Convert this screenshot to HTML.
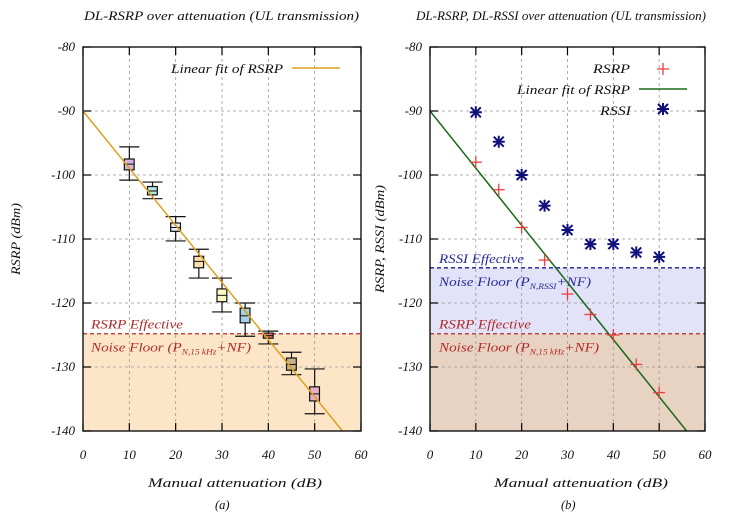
<!DOCTYPE html>
<html><head><meta charset="utf-8"><style>
body{margin:0;background:#fff;}
svg text{font-family:"Liberation Serif",serif;font-style:italic;fill:#111;}
</style></head><body>
<svg id="chart" width="738" height="518" xmlns="http://www.w3.org/2000/svg"></svg>
<script>
const xTicks=[0,10,20,30,40,50,60];
const yTicks=[-80,-90,-100,-110,-120,-130,-140];
const boxX=[10,15,20,25,30,35,40,45,50];
const boxLow=[-100.8,-103.7,-110.3,-116.1,-121.4,-125.2,-126.4,-131.2,-137.3];
const boxQ1=[-99.2,-103.1,-108.8,-114.5,-119.8,-123.1,-125.5,-130.5,-135.3];
const boxMed=[-98.3,-102.5,-108.2,-113.5,-118.8,-122.0,-125.1,-129.6,-134.2];
const boxQ3=[-97.5,-101.8,-107.5,-112.7,-117.8,-120.8,-124.7,-128.6,-133.1];
const boxHigh=[-95.6,-101.1,-106.5,-111.6,-116.1,-120.0,-124.4,-127.7,-130.3];
const boxColors=['#d8b4e2','#b4e4da','#e4eef8','#f6deb0','#fafac4','#a8d0e6','#e07a6a','#c8b488','#e8b0c4'];
const rsrpX=[10,15,20,25,30,35,40,45,50];
const rsrpVals=[-98,-102.3,-108.2,-113.3,-118.6,-121.8,-125,-129.6,-134];
const rssiVals=[-90.2,-94.8,-100,-104.8,-108.6,-110.8,-110.8,-112.1,-112.8];
const fitIntercept=-90, fitSlope=-0.893;
const rsrpFloor=-124.8, rssiFloor=-114.5;

const svg=document.getElementById('chart');
const NS='http://www.w3.org/2000/svg';
function el(tag,attrs,parent,text){const e=document.createElementNS(NS,tag);for(const k in attrs)e.setAttribute(k,attrs[k]);if(text!==undefined)e.textContent=text;(parent||svg).appendChild(e);return e;}

function panel(L,R,T,B,name){
  const sx=v=>L+(v-0)/60*(R-L);
  const sy=v=>T+(-80-v)/60*(B-T);
  const g=el('g',{});
  
  
  return {sx,sy,g,L,R,T,B};
}
function axes(p){
  const {sx,sy,g,L,R,T,B}=p;
  xTicks.forEach(v=>{
    if(v>0&&v<60){const l=el('line',{x1:sx(v),x2:sx(v),y1:T,y2:B,stroke:'#999','stroke-dasharray':'3,3','stroke-width':0.8},g);
    }
    el('line',{x1:sx(v),x2:sx(v),y1:T,y2:T+8,stroke:'#000','stroke-width':1.2},g);
    el('line',{x1:sx(v),x2:sx(v),y1:B,y2:B-8,stroke:'#000','stroke-width':1.2},g);
    const t=el('text',{x:sx(v),y:B+28,'text-anchor':'middle','font-size':13},g,String(v));
    
  });
  yTicks.forEach(v=>{
    if(v>-140&&v<-80){const l=el('line',{x1:L,x2:R,y1:sy(v),y2:sy(v),stroke:'#999','stroke-dasharray':'3,3','stroke-width':0.8},g);
    }
    el('line',{x1:L,x2:L+8,y1:sy(v),y2:sy(v),stroke:'#000','stroke-width':1.2},g);
    el('line',{x1:R,x2:R-8,y1:sy(v),y2:sy(v),stroke:'#000','stroke-width':1.2},g);
    const t=el('text',{x:L-8,y:sy(v)+4,'text-anchor':'end','font-size':13},g,String(v));
    
  });
}
function frame(p){const f=el('rect',{x:p.L,y:p.T,width:p.R-p.L,height:p.B-p.T,fill:'none',stroke:'#000','stroke-width':1.3},p.g);
 }
function fitLine(p,color,name){
  const x2=(-140-fitIntercept)/fitSlope;
  const l=el('line',{x1:p.sx(0),y1:p.sy(fitIntercept),x2:p.sx(x2),y2:p.sy(-140),stroke:color,'stroke-width':1.5},p.g);
  
}
function label(p,txt,x,y,color,name,size,len){const a={x,y,'font-size':size||13,fill:color};if(len){a.textLength=len;a.lengthAdjust='spacingAndGlyphs';}
 const t=el('text',a,p?p.g:svg,txt);
 t.style.fill=color;return t;}
function nf(parent,x,y,color,name,sub,len){const t=el('text',{x,y,'font-size':13,textLength:len,lengthAdjust:'spacingAndGlyphs'},parent.g);
 t.style.fill=color;
 t.innerHTML='Noise Floor (P<tspan font-size="8" dy="3">'+sub+'</tspan><tspan dy="-3">+NF)</tspan>';}

// ---- Left panel
const A=panel(83,361,47,431,'panel-a');
el('rect',{x:A.L,y:A.sy(rsrpFloor),width:A.R-A.L,height:A.B-A.sy(rsrpFloor),fill:'#fde6c8'},A.g);
axes(A);
el('line',{x1:A.L,x2:A.R,y1:A.sy(rsrpFloor),y2:A.sy(rsrpFloor),stroke:'#b22a2a','stroke-dasharray':'4,3','stroke-width':1.3},A.g);
label(A,'RSRP Effective',91,A.sy(rsrpFloor)-5,'#b22a2a','rsrp-effective-label',13,92);
nf(A,91,A.sy(rsrpFloor)+18,'#b22a2a','noise-floor-label','N,15 kHz',160);
boxX.forEach((x,i)=>{
  const cx=A.sx(x),w=7,cw=10;
  const g=el('g',{},A.g);
  
  
  el('line',{x1:cx,x2:cx,y1:A.sy(boxLow[i]),y2:A.sy(boxHigh[i]),stroke:'#111','stroke-width':1.2},g);
  el('line',{x1:cx-cw,x2:cx+cw,y1:A.sy(boxLow[i]),y2:A.sy(boxLow[i]),stroke:'#111','stroke-width':1.2},g);
  el('line',{x1:cx-cw,x2:cx+cw,y1:A.sy(boxHigh[i]),y2:A.sy(boxHigh[i]),stroke:'#111','stroke-width':1.2},g);
  el('rect',{x:cx-w/1.4,y:A.sy(boxQ3[i]),width:w*1.4,height:A.sy(boxQ1[i])-A.sy(boxQ3[i]),fill:boxColors[i],stroke:'#111','stroke-width':1.2},g);
  el('line',{x1:cx-w/1.4,x2:cx+w/1.4,y1:A.sy(boxMed[i]),y2:A.sy(boxMed[i]),stroke:'#111','stroke-width':1},g);
});
fitLine(A,'#e0a020','fit-line-a');
frame(A);
label(A,'Linear fit of RSRP',171,73,'#111','legend-fit-label',13,112);
el('line',{x1:292,x2:340,y1:68,y2:68,stroke:'#e0a020','stroke-width':1.5},A.g);
label(null,'DL-RSRP over attenuation (UL transmission)',84,20,'#111','title-a',12.5,275);
let t=el('text',{x:0,y:0,'font-size':12.5,transform:'translate(20,239) rotate(-90)','text-anchor':'middle',textLength:72,lengthAdjust:'spacingAndGlyphs'},svg,'RSRP (dBm)');

t=el('text',{x:148,y:487,'font-size':12.5,textLength:174,lengthAdjust:'spacingAndGlyphs'},svg,'Manual attenuation (dB)');

t=el('text',{x:215,y:509,'font-size':12.5},svg,'(a)');


// ---- Right panel
const Bp=panel(430,705,47,431,'panel-b');
el('rect',{x:Bp.L,y:Bp.sy(rssiFloor),width:Bp.R-Bp.L,height:Bp.sy(rsrpFloor)-Bp.sy(rssiFloor),fill:'#e2e2f8'},Bp.g);
el('rect',{x:Bp.L,y:Bp.sy(rsrpFloor),width:Bp.R-Bp.L,height:Bp.B-Bp.sy(rsrpFloor),fill:'#e8d2c2'},Bp.g);
axes(Bp);
el('line',{x1:Bp.L,x2:Bp.R,y1:Bp.sy(rssiFloor),y2:Bp.sy(rssiFloor),stroke:'#1a1a90','stroke-dasharray':'4,3','stroke-width':1.3},Bp.g);
el('line',{x1:Bp.L,x2:Bp.R,y1:Bp.sy(rsrpFloor),y2:Bp.sy(rsrpFloor),stroke:'#b22a2a','stroke-dasharray':'4,3','stroke-width':1.3},Bp.g);
label(Bp,'RSSI Effective',439,Bp.sy(rssiFloor)-5,'#2a2a9a','rssi-effective-label',13,85);
nf(Bp,439,Bp.sy(rssiFloor)+18,'#2a2a9a','rssi-noise-floor-label','N,RSSI',152);
label(Bp,'RSRP Effective',439,Bp.sy(rsrpFloor)-5,'#b22a2a','rsrp-effective-label-b',13,92);
nf(Bp,439,Bp.sy(rsrpFloor)+18,'#b22a2a','rsrp-noise-floor-label-b','N,15 kHz',160);
fitLine(Bp,'#1a6a1a','fit-line-b');
function plus(cx,cy,name){const g=el('g',{stroke:'#e84040','stroke-width':1.3},Bp.g);
 el('line',{x1:cx-6,x2:cx+6,y1:cy,y2:cy},g);el('line',{x1:cx,x2:cx,y1:cy-6,y2:cy+6},g);}
function star(cx,cy,name){const g=el('g',{stroke:'#10107a','stroke-width':2},Bp.g);
 el('line',{x1:cx-6,x2:cx+6,y1:cy,y2:cy},g);el('line',{x1:cx,x2:cx,y1:cy-6,y2:cy+6},g);
 el('line',{x1:cx-5,x2:cx+5,y1:cy-5,y2:cy+5},g);el('line',{x1:cx-5,x2:cx+5,y1:cy+5,y2:cy-5},g);}
rsrpX.forEach((x,i)=>{plus(Bp.sx(x),Bp.sy(rsrpVals[i]),'rsrp-point-'+x);star(Bp.sx(x),Bp.sy(rssiVals[i]),'rssi-point-'+x);});
frame(Bp);
label(Bp,'RSRP',593,73,'#111','legend-rsrp-label',13,37);
plus(663,69,'legend-rsrp-marker');
label(Bp,'Linear fit of RSRP',517,94,'#111','legend-fit-label-b',13,113);
el('line',{x1:639,x2:687,y1:89,y2:89,stroke:'#1a6a1a','stroke-width':1.5},Bp.g);
label(Bp,'RSSI',600,115,'#111','legend-rssi-label',13,31);
star(663,109,'legend-rssi-marker');
label(null,'DL-RSRP, DL-RSSI over attenuation (UL transmission)',416,20,'#111','title-b',12.5,290);
t=el('text',{x:0,y:0,'font-size':12.5,transform:'translate(384,239) rotate(-90)','text-anchor':'middle',textLength:108,lengthAdjust:'spacingAndGlyphs'},svg,'RSRP, RSSI (dBm)');

t=el('text',{x:494,y:487,'font-size':12.5,textLength:174,lengthAdjust:'spacingAndGlyphs'},svg,'Manual attenuation (dB)');

t=el('text',{x:561,y:509,'font-size':12.5},svg,'(b)');

</script>
</body></html>
